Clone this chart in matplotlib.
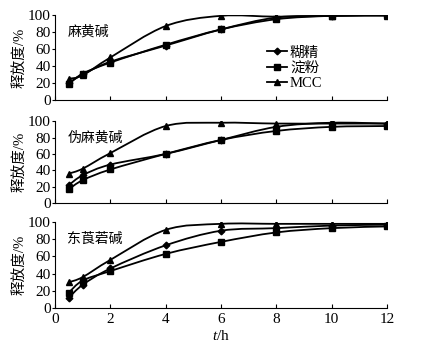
import numpy as np
import matplotlib
matplotlib.use('Agg')
import matplotlib.pyplot as plt
from matplotlib.path import Path
from matplotlib.patches import PathPatch
from matplotlib.lines import Line2D

plt.rcParams['font.family'] = ['Liberation Serif', 'Noto Sans CJK SC']
plt.rcParams['mathtext.fontset'] = 'custom'
plt.rcParams['mathtext.it'] = 'Liberation Serif:italic'
plt.rcParams['mathtext.rm'] = 'Liberation Serif'

t = [0.5, 1, 2, 4, 6, 8, 10, 12]

drugs = ['麻黄碱', '伪麻黄碱', '东莨菪碱']
series_names = ['糊精', '淀粉', 'MCC']

# release (%) for dextrin, starch, MCC in each panel
dextrin = [
    [20, 30, 45, 64, 83, 97, 99, 100],
    [22, 34, 47, 60, 77, 93, 98, 97],
    [12, 27, 46, 73, 90, 93, 96, 97],
]
starch = [
    [19, 31, 44, 65, 83, 95, 99, 100],
    [17, 28, 41, 60, 77, 88, 93, 94],
    [18, 32, 43, 63, 77, 88, 93, 95],
]
mcc = [
    [25, 29, 50, 87, 99, 98, 99, 99],
    [36, 42, 61, 94, 98, 97, 97, 97],
    [30, 36, 56, 91, 98, 98, 98, 98],
]

markers = ['D', 's', '^']
msizes = [3.4, 5.0, 4.8]


def smooth_path(x, y):
    # Catmull-Rom through the points, written as cubic bezier segments
    x = np.asarray(x, float)
    y = np.asarray(y, float)
    pts = np.column_stack([x, y])
    verts = [pts[0]]
    codes = [Path.MOVETO]
    n = len(pts)
    for i in range(n - 1):
        p0 = pts[i - 1] if i > 0 else pts[i]
        p1 = pts[i]
        p2 = pts[i + 1]
        p3 = pts[i + 2] if i + 2 < n else pts[i + 1]
        c1 = p1 + (p2 - p0) / 6.0
        c2 = p2 - (p3 - p1) / 6.0
        verts += [c1, c2, p2]
        codes += [Path.CURVE4] * 3
    return Path(verts, codes)


fig = plt.figure(figsize=(4.3, 3.49), dpi=100)
rects = [
    [0.128, 0.7135, 0.772, 0.2436],
    [0.128, 0.418, 0.772, 0.235],
    [0.128, 0.1175, 0.772, 0.246],
]

for k in range(3):
    ax = fig.add_axes(rects[k])
    data = [dextrin[k], starch[k], mcc[k]]
    for j, y in enumerate(data):
        ax.add_patch(PathPatch(smooth_path(t, y), fill=False, lw=1.3,
                               edgecolor='black', zorder=2))
        ax.plot(t, y, ls='none', marker=markers[j], ms=msizes[j],
                color='black', zorder=3)
    ax.set_xlim(0, 12)
    ax.set_ylim(0, 100)
    ax.set_xticks(range(0, 13, 2))
    ax.set_yticks(range(0, 101, 20))
    for s in ['top', 'right']:
        ax.spines[s].set_visible(False)
    for s in ['left', 'bottom']:
        ax.spines[s].set_linewidth(0.8)
    ax.tick_params(axis='x', direction='in', length=3, width=0.8, labelsize=11)
    ax.tick_params(axis='y', direction='out', length=2, width=0.8, labelsize=11, pad=1)
    if k < 2:
        ax.set_xticklabels([])
    else:
        ax.set_xlabel('$t$/h', fontsize=11, labelpad=2)
    ax.set_ylabel('释放度/%', fontsize=10.5, labelpad=1)
    ax.text(0.45, 80, drugs[k], fontsize=10, va='center', ha='left',
            family='Noto Sans CJK SC')

    if k == 0:
        handles = [Line2D([], [], color='black', lw=1.3, marker=markers[j],
                          ms=msizes[j]) for j in range(3)]
        ax.legend(handles, series_names, loc='upper left',
                  bbox_to_anchor=(0.62, 0.7), frameon=False,
                  handlelength=1.4, handletextpad=0.2, labelspacing=0.15,
                  borderaxespad=0,
                  prop={'family': ['Liberation Serif', 'Noto Sans CJK SC'], 'size': 10.5})

fig.savefig('out.png', dpi=100)
